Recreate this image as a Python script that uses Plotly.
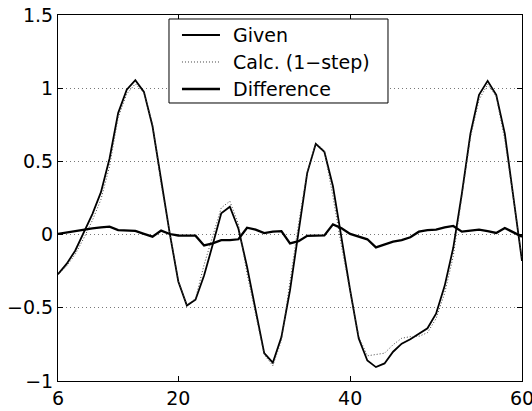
import plotly.graph_objects as go

x_vals = list(range(6, 61))

given = [-0.27, -0.20, -0.11, 0.01, 0.14, 0.29, 0.52, 0.83, 0.99, 1.055,
         0.975, 0.74, 0.37, 0.01, -0.32, -0.485, -0.445, -0.28, -0.07, 0.145,
         0.19, 0.04, -0.22, -0.515, -0.81, -0.875, -0.70, -0.38, 0.03, 0.42,
         0.62, 0.566, 0.33, -0.04, -0.38, -0.71, -0.86, -0.905, -0.88, -0.80,
         -0.745, -0.715, -0.675, -0.64, -0.54, -0.35, -0.09, 0.28, 0.69, 0.955,
         1.05, 0.955, 0.69, 0.26, -0.18]

calc = [-0.275, -0.215, -0.135, -0.025, 0.097, 0.24, 0.466, 0.799, 0.961, 1.03,
        0.97, 0.754, 0.343, 0.006, -0.314, -0.48, -0.438, -0.206, -0.01, 0.183,
        0.228, 0.072, -0.267, -0.549, -0.82, -0.895, -0.724, -0.32, 0.075, 0.428,
        0.627, 0.572, 0.26, -0.083, -0.385, -0.696, -0.828, -0.818, -0.81, -0.752,
        -0.708, -0.697, -0.695, -0.67, -0.574, -0.40, -0.149, 0.26, 0.663, 0.921,
        1.027, 0.944, 0.645, 0.245, -0.166]

difference = [0.005, 0.015, 0.025, 0.035, 0.043, 0.05, 0.054, 0.031, 0.029, 0.025,
              0.005, -0.014, 0.027, 0.004, -0.006, -0.005, -0.007, -0.074, -0.06, -0.038,
              -0.038, -0.032, 0.047, 0.034, 0.01, 0.02, 0.024, -0.06, -0.045, -0.008,
              -0.007, -0.006, 0.07, 0.043, 0.005, -0.014, -0.032, -0.087, -0.07, -0.048,
              -0.037, -0.018, 0.02, 0.03, 0.034, 0.05, 0.059, 0.02, 0.027, 0.034,
              0.023, 0.011, 0.045, 0.015, -0.014]

series_names = ["Given", "Calc. (1\u2212step)", "Difference"]

x_ticks = [6, 20, 40, 60]
y_ticks = [-1, -0.5, 0, 0.5, 1, 1.5]
y_tick_text = ["\u22121", "\u22120.5", "0", "0.5", "1", "1.5"]

styles = [dict(color="black", width=1.8),
          dict(color="#444444", width=1, dash="1px,2px"),
          dict(color="black", width=2.3)]

fig = go.Figure()
for name, ys, st in zip(series_names, [given, calc, difference], styles):
    fig.add_trace(go.Scatter(x=x_vals, y=ys, mode="lines", name=name,
                             line=st, showlegend=False, hoverinfo="skip"))

font = dict(family="DejaVu Sans, sans-serif", size=19, color="black")

# hand-built legend box (MATLAB style)
leg_x0, leg_x1 = 0.2392, 0.7112
leg_y0, leg_y1 = 0.7596, 0.9891
sample_x0, sample_x1 = 0.2672, 0.3491
text_x = 0.3722
row_y = [0.9454, 0.8716, 0.7978]
shapes = [dict(type="rect", xref="paper", yref="paper", x0=leg_x0, x1=leg_x1,
               y0=leg_y0, y1=leg_y1, line=dict(color="black", width=1),
               fillcolor="white", layer="above")]
annotations = []
for name, st, ry in zip(series_names, styles, row_y):
    shapes.append(dict(type="line", xref="paper", yref="paper", x0=sample_x0,
                       x1=sample_x1, y0=ry, y1=ry, layer="above",
                       line=dict(color=st["color"], width=st["width"],
                                 dash=st.get("dash", "solid"))))
    annotations.append(dict(text=name, xref="paper", yref="paper", x=text_x, y=ry,
                            xanchor="left", yanchor="middle", showarrow=False,
                            font=font))

fig.update_layout(
    width=532, height=411,
    margin=dict(l=58, r=10, t=15, b=30, autoexpand=False),
    paper_bgcolor="white", plot_bgcolor="white",
    font=font,
    showlegend=False,
    hovermode=False,
    shapes=shapes,
    annotations=annotations,
)
fig.update_xaxes(range=[6, 60], tickvals=x_ticks, ticktext=[str(t) for t in x_ticks],
                 showgrid=False, zeroline=False, showline=True, linecolor="black",
                 linewidth=1, mirror="ticks", ticks="inside", ticklen=5,
                 tickcolor="black", tickfont=font, automargin=False,
                 ticklabeloverflow="allow")
fig.update_yaxes(range=[-1, 1.5], tickvals=y_ticks, ticktext=y_tick_text,
                 showgrid=True, gridcolor="#777777", griddash="1px,3px", gridwidth=1,
                 zeroline=False, showline=True, linecolor="black",
                 linewidth=1, mirror="ticks", ticks="inside", ticklen=5,
                 tickcolor="black", tickfont=font, automargin=False,
                 ticklabeloverflow="allow")

fig.write_html("out.html", config={"displayModeBar": False},
               post_script="document.body.style.margin='0px';")
